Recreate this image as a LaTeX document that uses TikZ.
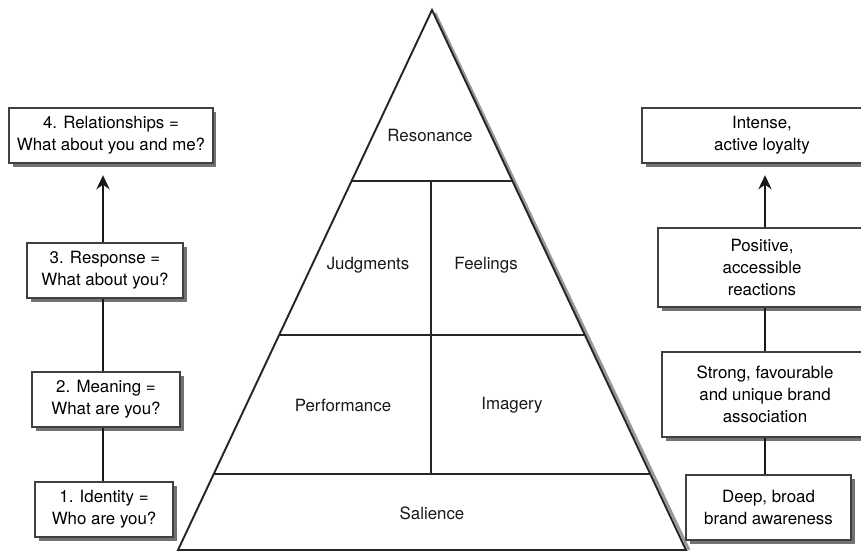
\documentclass[tikz,border=0pt]{standalone}
\usepackage{fontspec}
\setmainfont{TeX Gyre Heros}
\usetikzlibrary{arrows.meta,shadows,calc}

\tikzset{
  stage/.style={draw=black!75, line width=0.9pt, fill=white, align=center, inner sep=2pt,
    drop shadow={shadow xshift=2pt, shadow yshift=-2pt, fill=black!55, opacity=1}},
  link/.style={black!90, line width=1.6pt},
  uplink/.style={link, -{Stealth[length=8pt,width=7.5pt]}, shorten >=6.5pt},
  brick/.style={black!85, line width=1.1pt},
  tier/.style={align=center, text=black!90}
}

\begin{document}
\begin{tikzpicture}[x=0.02cm, y=-0.02cm, font=\fontsize{9.6}{12.7}\selectfont]
		\useasboundingbox (0,0) rectangle (861,553);
		\clip (0,0) rectangle (861,553);

		% pyramid
		\coordinate (apex) at (432,10);
		\coordinate (bl) at (178,550);
		\coordinate (br) at (686,550);
		\draw[black!40, line width=1.6pt] ($(apex)+(3,3)$) -- ($(br)+(3,0)$);
		\draw[brick, line join=miter] (apex) -- (bl) -- (br) -- cycle;
		\draw[brick] ($(apex)!0.3167!(bl)$) -- ($(apex)!0.3167!(br)$);
		\draw[brick] ($(apex)!0.6019!(bl)$) -- ($(apex)!0.6019!(br)$);
		\draw[brick] ($(apex)!0.8593!(bl)$) -- ($(apex)!0.8593!(br)$);
		\draw[brick] (431,181) -- (431,474);

		\node[tier] (reson) at (430,135) {Resonance};
		\node[tier] (judge) at (368,265) {Judgments};
		\node[tier] (feel) at (486,265) {Feelings};
		\node[tier] (perf) at (343,405) {Performance};
		\node[tier] (imag) at (512,405) {Imagery};
		\node[tier] (sal) at (432,513) {Salience};

		% left: questions
		\node[stage, minimum width=4.08cm, minimum height=1.1cm] (relation) at (111,135.5) {4. Relationships =\\What about you and me?};
		\node[stage, minimum width=3.12cm, minimum height=1.1cm] (response) at (105,270.5) {3. Response =\\What about you?};
		\node[stage, minimum width=2.96cm, minimum height=1.1cm] (meaning) at (106,399.5) {2. Meaning =\\What are you?};
		\node[stage, minimum width=2.76cm, minimum height=1.1cm] (ident) at (104,509.5) {1. Identity =\\Who are you?};

		\coordinate (lspine) at (103,0);
		\draw[link] (lspine |- ident.north) -- (lspine |- meaning.south);
		\draw[link] (lspine |- meaning.north) -- (lspine |- response.south);
		\draw[uplink] (lspine |- response.north) -- (lspine |- relation.south);

		% right: outcomes
		\node[stage, minimum width=4.8cm, minimum height=1.1cm] (loyal) at (762,135.5) {Intense,\\active loyalty};
		\node[stage, minimum width=4.16cm, minimum height=1.58cm] (react) at (762,267.5) {Positive,\\accessible\\reactions};
		\node[stage, minimum width=4.12cm, minimum height=1.7cm] (assoc) at (765,394.5) {Strong, favourable\\and unique brand\\association};
		\node[stage, minimum width=3.3cm, minimum height=1.3cm] (aware) at (768.5,507.5) {Deep, broad\\brand awareness};

		\coordinate (rspine) at (765,0);
		\draw[link] (rspine |- aware.north) -- (rspine |- assoc.south);
		\draw[link] (rspine |- assoc.north) -- (rspine |- react.south);
		\draw[uplink] (rspine |- react.north) -- (rspine |- loyal.south);
	\end{tikzpicture}
\end{document}
